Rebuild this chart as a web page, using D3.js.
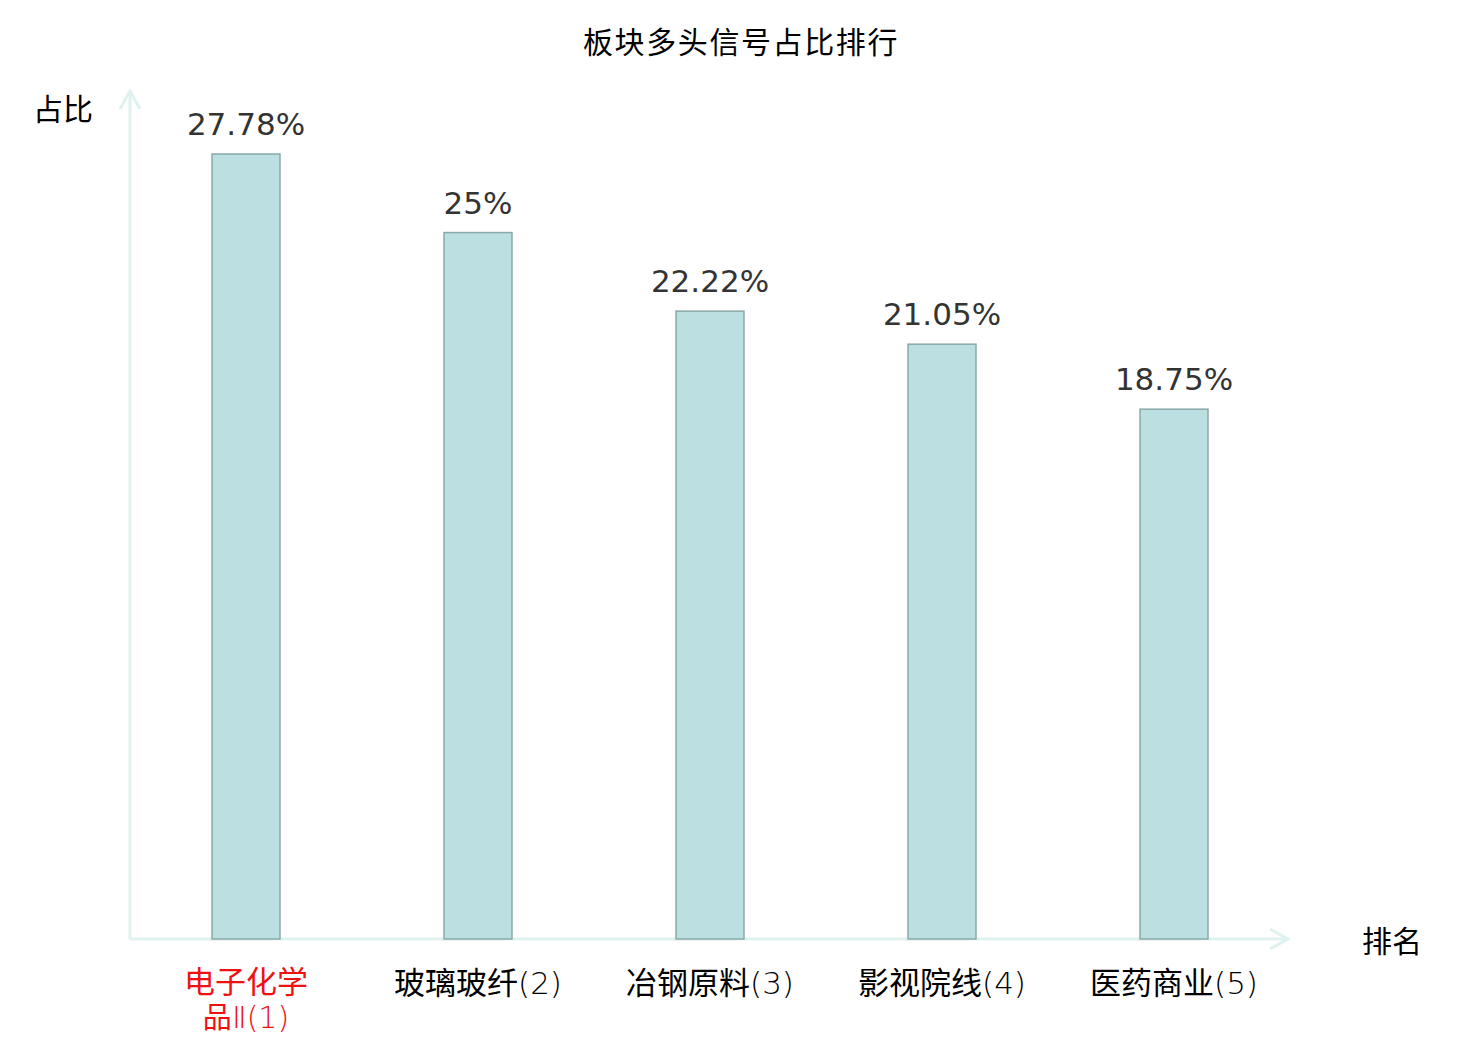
<!DOCTYPE html>
<html><head><meta charset="utf-8">
<script src="https://cdn.jsdelivr.net/npm/d3@7/dist/d3.min.js"></script>
<style>body{margin:0;background:#fff}svg{display:block}</style>
</head><body>
<script>
const categories = ["电子化学品Ⅱ(1)", "玻璃玻纤(2)", "冶钢原料(3)", "影视院线(4)", "医药商业(5)"];
const values = [27.78, 25, 22.22, 21.05, 18.75];
const valueLabels = ["27.78%", "25%", "22.22%", "21.05%", "18.75%"];
const title = "板块多头信号占比排行";
const yName = "占比";
const xName = "排名";

const W = 1480, H = 1040;
const svg = d3.select("body").append("svg").attr("width", W).attr("height", H);
const cjk = "'Noto Sans CJK SC','Noto Sans',sans-serif";
const latinThin = "'DejaVu Sans',sans-serif";
const axisColor = "#dff2f0";

const x = d3.scaleBand().domain(categories).range([130, 1290]).paddingInner(0.707).paddingOuter(0.3535);
const y = d3.scaleLinear().domain([0, 27.78]).range([939, 154]);

svg.append("text").attr("x", 741).attr("y", 53).attr("text-anchor", "middle")
  .attr("font-family", cjk).attr("font-size", 30).attr("letter-spacing", 1.6).attr("fill", "#000").text(title);

// axes
const ax = svg.append("g").attr("stroke", axisColor).attr("stroke-width", 3).attr("fill", "none");
ax.append("line").attr("x1", 130).attr("y1", 939).attr("x2", 1288).attr("y2", 939);
ax.append("path").attr("d", "M1270,929 L1288,939 L1270,949");
ax.append("line").attr("x1", 130).attr("y1", 939).attr("x2", 130).attr("y2", 91);
ax.append("path").attr("d", "M120,109 L130,91 L140,109");

svg.append("text").attr("x", 63).attr("y", 120).attr("text-anchor", "middle")
  .attr("font-family", cjk).attr("font-size", 30).attr("fill", "#000").text(yName);
svg.append("text").attr("x", 1392).attr("y", 952).attr("text-anchor", "middle")
  .attr("font-family", cjk).attr("font-size", 30).attr("fill", "#000").text(xName);

// bars
svg.selectAll("rect.bar").data(values).join("rect").attr("class", "bar")
  .attr("x", (d, i) => x(categories[i]))
  .attr("y", d => y(d))
  .attr("width", x.bandwidth())
  .attr("height", d => y(0) - y(d))
  .attr("fill", "#bce0e2").attr("stroke", "#8ba8a8").attr("stroke-width", 1.5);

svg.selectAll("text.val").data(values).join("text").attr("class", "val")
  .attr("x", (d, i) => x(categories[i]) + x.bandwidth() / 2)
  .attr("y", d => y(d) - 19)
  .attr("text-anchor", "middle").attr("font-family", "'DejaVu Sans',sans-serif")
  .attr("font-size", 31).attr("fill", "#333")
  .text((d, i) => valueLabels[i]);

// category labels: CJK part + thin latin part
function addParts(t, s, size) {
  const m = s.match(/^([\u4e00-\u9fff]*)(.*)$/);
  if (m[1]) t.append("tspan").attr("font-family", cjk).attr("font-size", size).text(m[1]);
  if (m[2]) t.append("tspan").attr("font-family", latinThin).attr("font-weight", 200).attr("font-size", size).text(m[2]);
}
categories.forEach((c, i) => {
  const cx = x(c) + x.bandwidth() / 2;
  const fill = i === 0 ? "#ee1111" : "#000";
  if (i === 0) {
    const t = svg.append("text").attr("x", cx).attr("y", 993).attr("text-anchor", "middle")
      .attr("font-size", 31).attr("fill", fill);
    t.append("tspan").attr("x", cx).attr("y", 993).attr("font-family", cjk).text(c.slice(0, 4));
    t.append("tspan").attr("x", cx).attr("y", 1028).attr("font-family", cjk).attr("font-size", 29).text("品");
    t.append("tspan").attr("font-family", latinThin).attr("font-weight", 200).attr("font-size", 30).text(c.slice(5));
  } else {
    const t = svg.append("text").attr("x", cx).attr("y", 994).attr("text-anchor", "middle")
      .attr("font-size", 31).attr("fill", fill);
    addParts(t, c, 31);
  }
});
</script>
</body></html>
